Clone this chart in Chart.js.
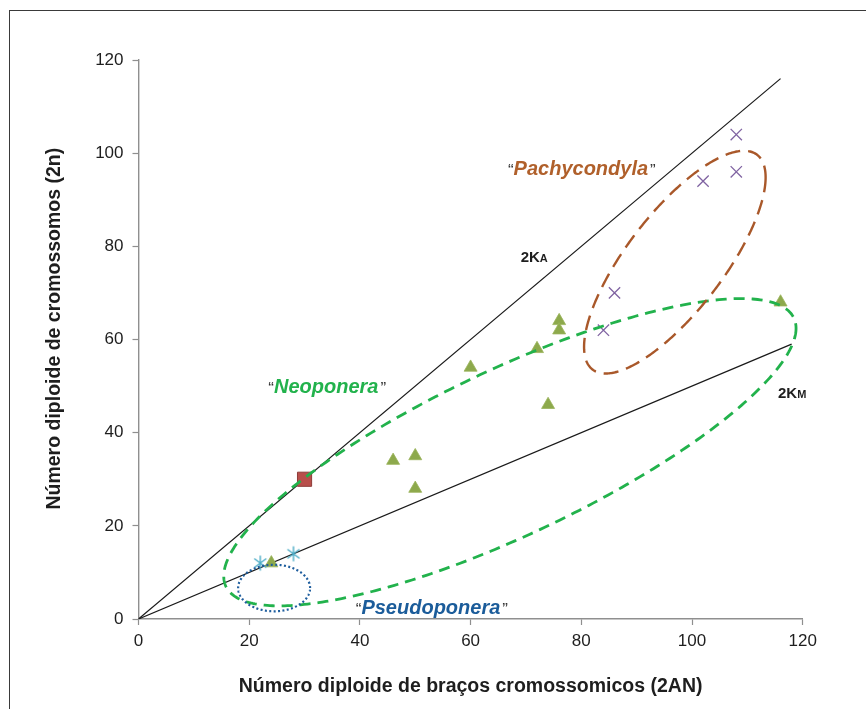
<!DOCTYPE html>
<html>
<head>
<meta charset="utf-8">
<script src="https://cdn.jsdelivr.net/npm/chart.js@4.4.1/dist/chart.umd.min.js"></script>
<style>
  html, body { margin: 0; padding: 0; background: #ffffff; }
  #wrap { position: relative; width: 866px; height: 709px; overflow: hidden; }
  #frame { position: absolute; left: 9px; top: 10px; width: 900px; height: 760px;
           border-top: 1.5px solid #3a3a3a; border-left: 1.5px solid #3a3a3a; }
  canvas { position: absolute; left: 0; top: 0; }
</style>
</head>
<body>
<div id="wrap">
  <div id="frame"></div>
  <canvas id="c" width="866" height="709"></canvas>
</div>
<script>
// ---- data ----
const xTitle = 'Número diploide de braços cromossomicos (2AN)';
const yTitle = 'Número diploide de cromossomos (2n)';
const axisMin = 0, axisMax = 120, axisStep = 20;

// Neoponera (triangles): [2AN, 2n]
const neoponeraX = [24, 46, 50, 50, 60, 72, 76, 76, 74, 116];
const neoponeraY = [12, 34, 35, 28, 54, 58, 64, 62, 46, 68];
// Pachycondyla (x markers)
const pachyX = [108, 108, 102, 86, 84];
const pachyY = [104, 96, 94, 70, 62];
// Pseudoponera (asterisks)
const pseudoX = [22, 28];
const pseudoY = [12, 14];
// other (square)
const squareX = [30];
const squareY = [30];
// reference lines 2KA (2n = 2AN) and 2KM (2n = 2AN/2)
const kaX = [0, 116], kaY = [0, 116];
const kmX = [0, 118], kmY = [0, 59];

const toPts = (xs, ys) => xs.map((x, i) => ({x: x, y: ys[i]}));

// ---- styling / annotations ----
const FONT = '"Liberation Sans", Arial, sans-serif';

// ellipses: center, conjugate semi-axes (data units)
const ellipses = [
  {c: [67.1, 35.8], a: [51.7, 26.6], b: [0, -19.5], color: '#22B24C', width: 2.8, dash: [11, 7]},
  {c: [96.9, 76.6], a: [16.4, 18.2], b: [0, -15.5], color: '#A9582A', width: 2.4, dash: [15, 8]},
  {c: [24.5, 6.65], a: [6.5, 0], b: [0, 5.0], color: '#1F5E9E', width: 2.2, dash: [2, 2.4]}
];

const groupLabels = [
  {x: 80.1, y: 96.8, text: 'Pachycondyla', color: '#B0602B'},
  {x: 34.1, y: 50.0, text: 'Neoponera', color: '#22B24C'},
  {x: 53.0, y: 2.6, text: 'Pseudoponera', color: '#1B5C9A'}
];
const lineLabels = [
  {x: 71.5, y: 77.9, main: '2K', sub: 'A'},
  {x: 118.1, y: 48.7, main: '2K', sub: 'M'}
];

// asterisk marker (vertical + diagonal cross)
function makeAsterisk(color) {
  const cv = document.createElement('canvas');
  cv.width = 18; cv.height = 18;
  const g = cv.getContext('2d');
  g.strokeStyle = color; g.lineWidth = 1.4; g.lineCap = 'butt';
  const c = 9, r = 7.5;
  g.beginPath();
  g.moveTo(c, c - r); g.lineTo(c, c + r);
  const d = r * 0.8, e = r * 0.6;
  g.moveTo(c - d, c - e); g.lineTo(c + d, c + e);
  g.moveTo(c - d, c + e); g.lineTo(c + d, c - e);
  g.stroke();
  return cv;
}

const annotPlugin = {
  id: 'annot',
  afterDatasetsDraw(chart) {
    const ctx = chart.ctx;
    const xs = chart.scales.x, ys = chart.scales.y;
    ellipses.forEach(e => {
      ctx.save();
      ctx.beginPath();
      const N = 360;
      for (let i = 0; i <= N; i++) {
        const t = (i / N) * Math.PI * 2;
        const dx = e.c[0] + Math.cos(t) * e.a[0] + Math.sin(t) * e.b[0];
        const dy = e.c[1] + Math.cos(t) * e.a[1] + Math.sin(t) * e.b[1];
        const px = xs.getPixelForValue(dx), py = ys.getPixelForValue(dy);
        if (i === 0) ctx.moveTo(px, py); else ctx.lineTo(px, py);
      }
      ctx.closePath();
      ctx.strokeStyle = e.color;
      ctx.lineWidth = e.width;
      ctx.setLineDash(e.dash);
      ctx.stroke();
      ctx.restore();
    });
    groupLabels.forEach(l => {
      ctx.save();
      const px = xs.getPixelForValue(l.x), py = ys.getPixelForValue(l.y);
      const qFont = '17px ' + FONT;
      const wFont = 'italic bold 20px ' + FONT;
      ctx.font = qFont; const qw1 = ctx.measureText('\u201C').width; const qw2 = ctx.measureText('\u201D').width;
      ctx.font = wFont; const ww = ctx.measureText(l.text).width;
      const total = qw1 + ww + qw2 + 2;
      let x0 = px - total / 2;
      ctx.textBaseline = 'alphabetic';
      const base = py + 7;
      ctx.fillStyle = '#333333';
      ctx.font = qFont; ctx.fillText('\u201C', x0, base + 1);
      ctx.fillStyle = l.color;
      ctx.font = wFont; ctx.fillText(l.text, x0 + qw1, base);
      ctx.fillStyle = '#333333';
      ctx.font = qFont; ctx.fillText('\u201D', x0 + qw1 + ww + 2, base + 1);
      ctx.restore();
    });
    lineLabels.forEach(l => {
      ctx.save();
      const px = xs.getPixelForValue(l.x), py = ys.getPixelForValue(l.y);
      const mFont = 'bold 15px ' + FONT, sFont = 'bold 11px ' + FONT;
      ctx.font = mFont; const mw = ctx.measureText(l.main).width;
      ctx.font = sFont; const sw = ctx.measureText(l.sub).width;
      const x0 = px - (mw + sw) / 2;
      const base = py + 5.5;
      ctx.fillStyle = '#1e1e1e';
      ctx.textBaseline = 'alphabetic';
      ctx.font = mFont; ctx.fillText(l.main, x0, base);
      ctx.font = sFont; ctx.fillText(l.sub, x0 + mw, base);
      ctx.restore();
    });
  }
};

const axisColor = '#8f8f8f';
function axisCfg(isX) {
  return {
    type: 'linear',
    position: isX ? 'bottom' : 'left',
    min: axisMin, max: axisMax,
    ticks: {stepSize: axisStep, color: '#1e1e1e', font: {family: FONT, size: 17}, padding: isX ? 6 : 9},
    grid: {drawOnChartArea: false, drawTicks: true, tickLength: 6, color: axisColor, tickColor: axisColor, tickWidth: 1.2},
    border: {display: true, color: axisColor, width: 1.4},
    title: {
      display: true, text: isX ? xTitle : '    ' + yTitle, color: '#1e1e1e',
      font: {family: FONT, size: 19.5, weight: 'bold'},
      padding: isX ? {top: 0, bottom: 11} : {top: 43, bottom: 0}
    },
    afterFit: s => { if (isX) s.height = 90; else s.width = 138.5; }
  };
}

new Chart(document.getElementById('c'), {
  type: 'scatter',
  data: {
    datasets: [
      {label: 'Outro', data: toPts(squareX, squareY), pointStyle: 'rect', pointRadius: 10,
       backgroundColor: '#B84F4B', borderColor: '#8E3B38', borderWidth: 1, order: 1},
      {label: 'Pseudoponera', data: toPts(pseudoX, pseudoY), pointStyle: makeAsterisk('#4BACC6'), pointRadius: 9, order: 2},
      {label: 'Neoponera', data: toPts(neoponeraX, neoponeraY), pointStyle: 'triangle', pointRadius: 7.5,
       backgroundColor: '#8DA94C', borderColor: '#9BB45A', borderWidth: 0.8, order: 3},
      {label: 'Pachycondyla', data: toPts(pachyX, pachyY), pointStyle: 'crossRot', pointRadius: 8,
       borderColor: '#8064A2', borderWidth: 1.3, order: 4},
      {label: '2KA', data: toPts(kaX, kaY), showLine: true, pointRadius: 0, borderColor: '#1a1a1a', borderWidth: 1.2, order: 5},
      {label: '2KM', data: toPts(kmX, kmY), showLine: true, pointRadius: 0, borderColor: '#1a1a1a', borderWidth: 1.2, order: 6}
    ]
  },
  options: {
    responsive: false,
    animation: false,
    events: [],
    layout: {padding: {left: 0, right: 63.3, top: 60, bottom: 0}},
    plugins: {legend: {display: false}, tooltip: {enabled: false}},
    scales: {x: axisCfg(true), y: axisCfg(false)}
  },
  plugins: [annotPlugin]
});
</script>
</body>
</html>
